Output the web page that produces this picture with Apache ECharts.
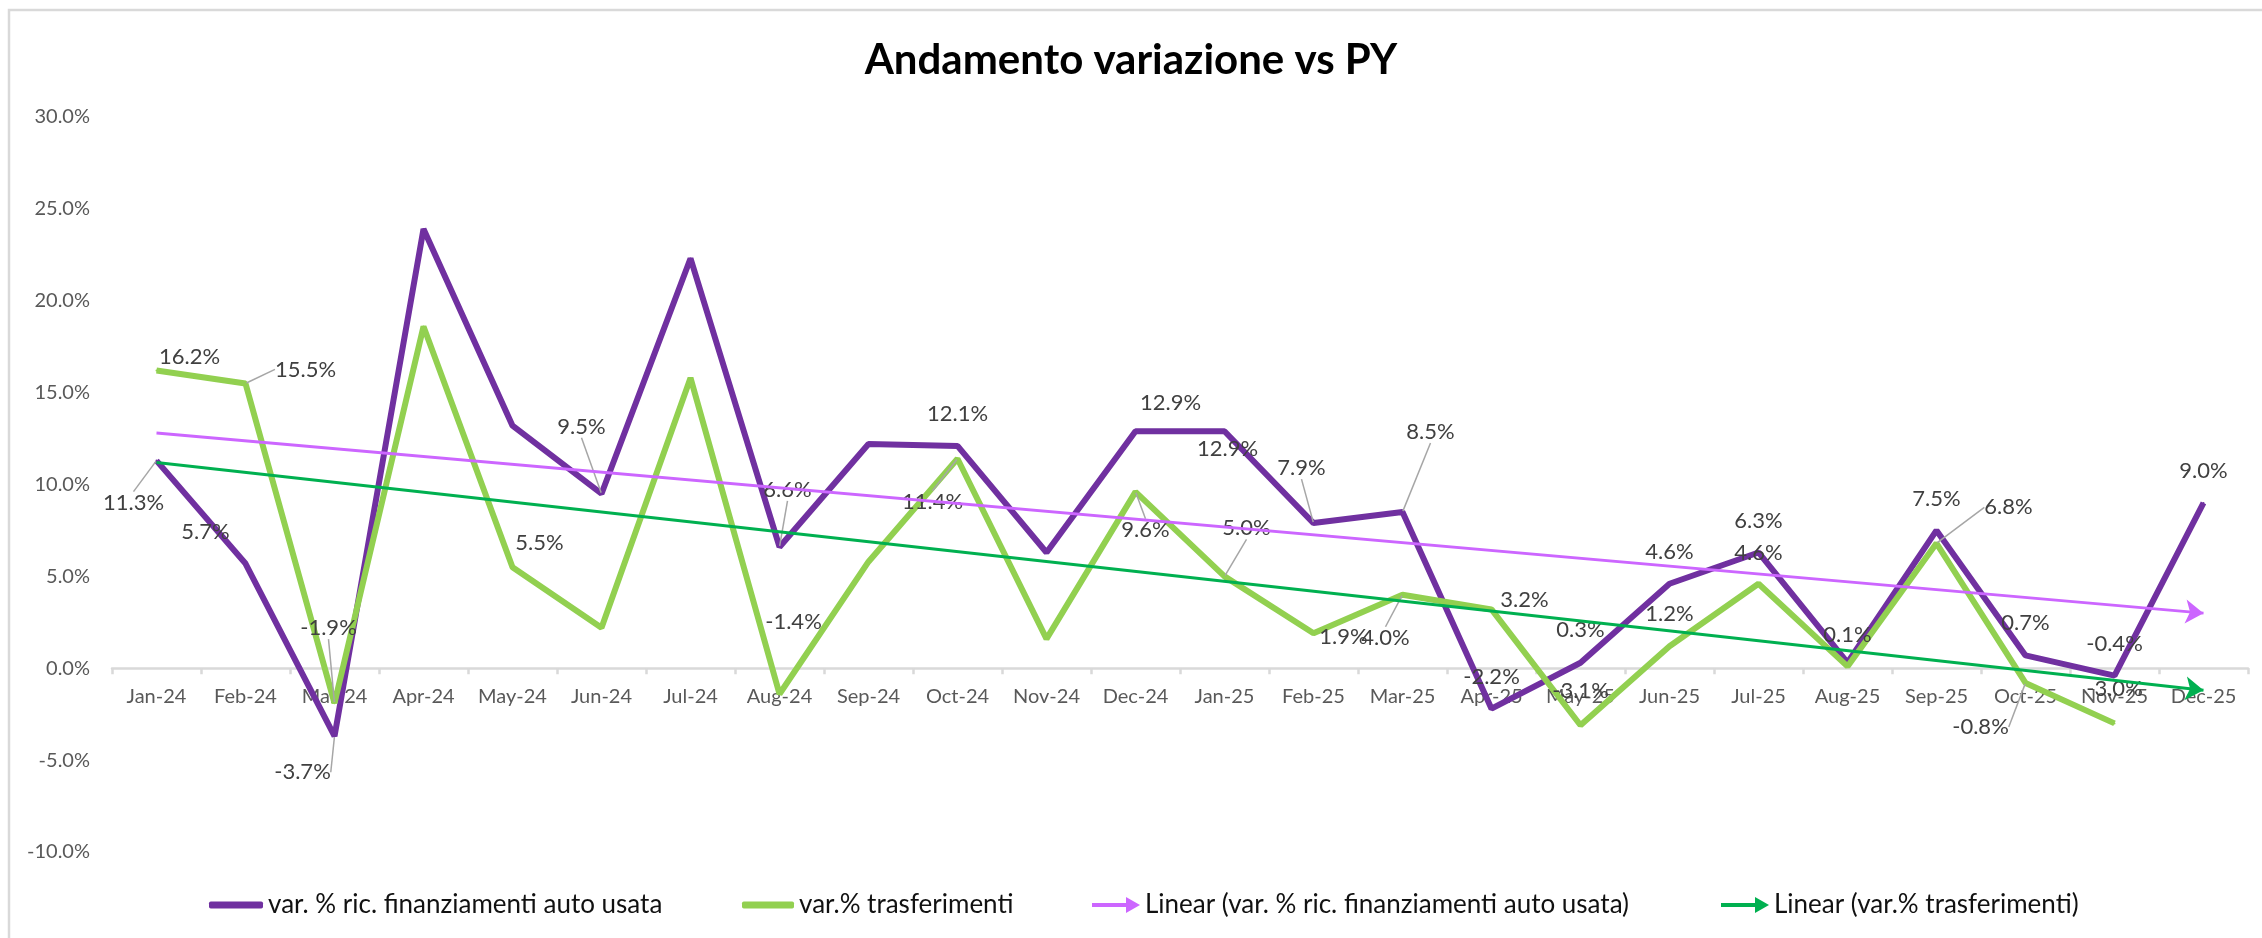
<!DOCTYPE html>
<html>
<head>
<meta charset="utf-8">
<title>Andamento variazione vs PY</title>
<script src="https://cdn.jsdelivr.net/npm/echarts@6/dist/echarts.min.js"></script>
<style>
    html, body { margin: 0; padding: 0; background: #fff; }
    #main { width: 2262px; height: 938px; }
</style>
</head>
<body>
<div id="main"></div>
<script>
// dati
var months = ['Jan-24', 'Feb-24', 'Mar-24', 'Apr-24', 'May-24', 'Jun-24', 'Jul-24', 'Aug-24',
    'Sep-24', 'Oct-24', 'Nov-24', 'Dec-24', 'Jan-25', 'Feb-25', 'Mar-25', 'Apr-25', 'May-25',
    'Jun-25', 'Jul-25', 'Aug-25', 'Sep-25', 'Oct-25', 'Nov-25', 'Dec-25'];

var finanziamenti = [11.3, 5.7, -3.7, 23.9, 13.2, 9.5, 22.3, 6.6, 12.2, 12.1, 6.3, 12.9,
    12.9, 7.9, 8.5, -2.2, 0.3, 4.6, 6.3, 0.3, 7.5, 0.7, -0.4, 9.0];

var trasferimenti = [16.2, 15.5, -1.9, 18.6, 5.5, 2.2, 15.8, -1.4, 5.8, 11.4, 1.6, 9.6,
    5.0, 1.9, 4.0, 3.2, -3.1, 1.2, 4.6, 0.1, 6.8, -0.8, -3.0];

// linee di tendenza: valore al primo e all'ultimo mese
var trendMonths = ['Jan-24', 'Dec-25'];
var trendFinanziamenti = [12.8, 3.0];
var trendTrasferimenti = [11.2, -1.2];

// tacche asse y
var yMin = -10, yMax = 30, yStep = 5;

var names = ['var. % ric. finanziamenti auto usata', 'var.% trasferimenti',
    'Linear (var. % ric. finanziamenti auto usata)', 'Linear (var.% trasferimenti)'];

// posizione etichette: [dx, dy, linea guida] rispetto al punto, null = nessuna etichetta
var finLabelPos = [
    [-23, 42, 1], [-40, -32, 0], [-32, 36, 1], null, null, [-20, -67, 1], null, [8, -57, 1],
    null, [0, -32, 0], null, [35, -28, 0], [3, 18, 0], [-12, -55, 1], [28, -80, 1], [0, -32, 0],
    [0, -33, 0], [0, -32, 0], [0, -32, 0], null, [0, -32, 0], [0, -32, 0], [0, -32, 0], [0, -32, 0]
];
var trasLabelPos = [
    [33, -14, 0], [60, -14, 1], [-6, -75, 1], null, [27, -24, 0], null, null, [14, -72, 0],
    null, [-25, 43, 1], null, [10, 38, 1], [22, -48, 1], [30, 4, 0], [-17, 43, 1], [33, -10, 0],
    [0, -34, 0], [0, -32, 0], [0, -31, 0], [0, -32, 0], [72, -36, 1], [-45, 44, 1], [0, -34, 0]
];

var FONT = 'Lato';

// area del grafico
var gridTop = 117, gridBottom = 86, chartHeight = 938;
var plotHeight = chartHeight - gridTop - gridBottom;
// l'asse x sta sullo zero
var zeroOffset = plotHeight * (0 - yMin) / (yMax - yMin);

function pct(v) {
    return v.toFixed(1) + '%';
}

function buildData(values, pos) {
    return values.map(function (v, i) {
        var p = pos[i];
        return {
            value: v,
            label: { show: !!p },
            labelLine: { show: !!(p && p[2]) }
        };
    });
}

function layoutFor(pos) {
    return function (params) {
        var p = pos[params.dataIndex];
        if (!p) return;
        var cx = params.rect.x + params.rect.width / 2;
        var cy = params.rect.y + params.rect.height / 2;
        return { x: cx + p[0], y: cy + p[1], align: 'center', verticalAlign: 'middle' };
    };
}

var dataLabel = {
    show: true,
    color: '#404040',
    fontFamily: FONT,
    fontSize: 22,
    formatter: function (p) { return pct(p.value); }
};

var guide = {
    show: true,
    lineStyle: { color: '#a6a6a6', width: 1.5 }
};

var arrowIcon = 'path://M0,6 L34,6 L34,0 L48,8 L34,16 L34,10 L0,10 Z';

function legendItem(name, left, icon, w, h) {
    return {
        data: [name],
        left: left,
        top: 887,
        icon: icon,
        itemWidth: w,
        itemHeight: h,
        itemGap: 0,
        selectedMode: false,
        textStyle: { color: '#111', fontFamily: FONT, fontSize: 26 }
    };
}

function trendSeries(name, color, values) {
    return {
        name: name,
        type: 'line',
        data: [],
        color: color,
        silent: true,
        markLine: {
            silent: true,
            symbol: ['none', 'arrow'],
            symbolSize: 18,
            label: { show: false },
            lineStyle: { color: color, width: 3, type: 'solid' },
            data: [[
                { coord: [trendMonths[0], values[0]] },
                { coord: [trendMonths[1], values[1]] }
            ]]
        }
    };
}

var myChart = echarts.init(document.getElementById('main'));

var option = {
    animation: false,
    backgroundColor: '#fff',
    title: {
        text: 'Andamento variazione vs PY',
        left: 'center',
        top: 34,
        textStyle: { color: '#000', fontFamily: FONT, fontWeight: 'bold', fontSize: 42 }
    },
    graphic: [{
        type: 'rect',
        shape: { x: 9, y: 10, width: 2300, height: 960 },
        style: { fill: 'none', stroke: '#d9d9d9', lineWidth: 2.5 },
        silent: true
    }],
    legend: [
        legendItem(names[0], 204, 'roundRect', 54, 7),
        legendItem(names[1], 737, 'roundRect', 52, 7),
        legendItem(names[2], 1087, arrowIcon, 48, 16),
        legendItem(names[3], 1716, arrowIcon, 48, 16)
    ],
    grid: { left: 112, right: 14, top: gridTop, bottom: gridBottom, containLabel: false },
    xAxis: {
        type: 'category',
        data: months,
        boundaryGap: true,
        offset: -zeroOffset,
        axisLine: { onZero: false, lineStyle: { color: '#d9d9d9', width: 2.5 } },
        axisTick: { show: true, length: 6, lineStyle: { color: '#d9d9d9', width: 2.5 } },
        axisLabel: { color: '#595959', fontFamily: FONT, fontSize: 20, margin: 18, interval: 0 },
        splitLine: { show: false }
    },
    yAxis: {
        type: 'value',
        min: yMin,
        max: yMax,
        interval: yStep,
        axisLine: { show: false },
        axisTick: { show: false },
        splitLine: { show: false },
        axisLabel: {
            color: '#595959', fontFamily: FONT, fontSize: 20, margin: 22,
            formatter: function (v) { return pct(v); }
        }
    },
    series: [{
        name: names[0],
        type: 'line',
        data: buildData(finanziamenti, finLabelPos),
        color: '#7030a0',
        lineStyle: { width: 6, color: '#7030a0' },
        symbol: 'circle',
        symbolSize: 2,
        showSymbol: true,
        label: dataLabel,
        labelLine: guide,
        labelLayout: layoutFor(finLabelPos),
        z: 2
    }, {
        name: names[1],
        type: 'line',
        data: buildData(trasferimenti, trasLabelPos),
        color: '#92d050',
        lineStyle: { width: 6, color: '#92d050' },
        symbol: 'circle',
        symbolSize: 2,
        showSymbol: true,
        label: dataLabel,
        labelLine: guide,
        labelLayout: layoutFor(trasLabelPos),
        z: 3
    },
        trendSeries(names[2], '#cc66ff', trendFinanziamenti),
        trendSeries(names[3], '#00b050', trendTrasferimenti)
    ]
};

myChart.setOption(option);
</script>
</body>
</html>
